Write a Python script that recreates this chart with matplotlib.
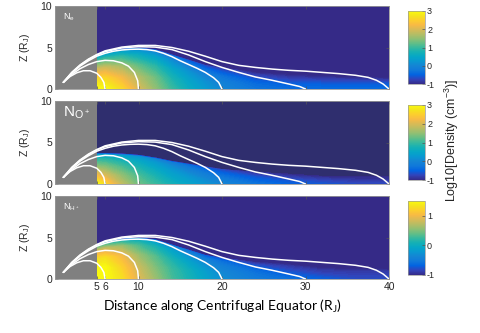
import numpy as np
import matplotlib
matplotlib.use("Agg")
import matplotlib.pyplot as plt
from matplotlib.colors import LinearSegmentedColormap, Normalize
from matplotlib.cm import ScalarMappable

plt.rcParams['font.family'] = ['Liberation Sans', 'DejaVu Sans']
plt.rcParams['axes.unicode_minus'] = False

# ---------------- data ----------------
x_nodes = [5, 6, 8, 10, 12, 14, 16, 18, 20, 24, 28, 32, 36, 40]
s_levels = [0.0, 0.3, 0.6, 0.85, 1.0]

top_e = [4.0, 4.3, 4.65, 4.8, 4.6, 4.0, 3.4, 2.8, 2.5, 2.0, 1.8, 1.6, 1.5, 1.4]
ne_vals = [
    [3.0, 3.0, 2.6, 2.0, 1.5, 1.0, 0.6, 0.3, 0.0, -0.3, -0.4, -0.4, -0.4, -0.4],
    [2.6, 2.6, 2.2, 1.7, 1.3, 0.8, 0.45, 0.15, -0.1, -0.4, -0.5, -0.5, -0.5, -0.5],
    [1.9, 1.9, 1.6, 1.2, 0.9, 0.5, 0.2, -0.1, -0.3, -0.6, -0.7, -0.7, -0.7, -0.7],
    [1.0, 1.0, 0.9, 0.6, 0.4, 0.1, -0.2, -0.4, -0.6, -0.8, -0.9, -0.9, -0.9, -0.9],
    [0.3, 0.3, 0.3, 0.1, -0.1, -0.3, -0.5, -0.7, -0.8, -1.0, -1.0, -1.0, -1.0, -1.0],
]

top_o = [3.5, 3.5, 3.45, 3.3, 3.0, 2.6, 2.3, 2.0, 1.7, 1.4, 1.2, 1.1, 1.0, 1.0]
no_vals = [
    [3.0, 2.6, 1.8, 1.3, 1.0, 0.7, 0.45, 0.2, 0.0, -0.3, -0.5, -0.6, -0.7, -0.7],
    [2.2, 2.0, 1.5, 1.1, 0.8, 0.5, 0.3, 0.05, -0.15, -0.45, -0.6, -0.7, -0.8, -0.8],
    [1.5, 1.4, 1.1, 0.8, 0.55, 0.3, 0.05, -0.15, -0.35, -0.6, -0.75, -0.85, -0.9, -0.9],
    [0.9, 0.9, 0.7, 0.5, 0.3, 0.05, -0.2, -0.4, -0.55, -0.8, -0.9, -1.0, -1.0, -1.0],
    [0.4, 0.4, 0.3, 0.2, 0.0, -0.2, -0.4, -0.6, -0.7, -0.9, -1.0, -1.0, -1.0, -1.0],
]

top_h = [4.0, 4.3, 4.65, 4.8, 4.6, 4.0, 3.4, 2.8, 2.5, 2.0, 1.8, 1.6, 1.5, 1.4]
nh_vals = [
    [1.5, 1.5, 1.3, 0.9, 0.6, 0.3, 0.1, -0.1, -0.3, -0.5, -0.6, -0.7, -0.8, -0.8],
    [1.5, 1.5, 1.2, 0.8, 0.5, 0.25, 0.05, -0.15, -0.35, -0.55, -0.7, -0.8, -0.85, -0.85],
    [1.3, 1.3, 1.0, 0.6, 0.35, 0.1, -0.1, -0.3, -0.45, -0.65, -0.8, -0.9, -0.9, -0.9],
    [0.8, 0.8, 0.6, 0.3, 0.1, -0.1, -0.3, -0.45, -0.6, -0.8, -0.9, -1.0, -1.0, -1.0],
    [0.2, 0.2, 0.1, 0.0, -0.2, -0.4, -0.55, -0.7, -0.8, -0.95, -1.0, -1.0, -1.0, -1.0],
]
background_value = -2.0

# magnetic field lines (x, z) in R_J
fl6_x = [1.0, 1.8, 2.6, 3.4, 4.2, 5.0, 5.5, 5.85, 6.0]
fl6_z = [0.8, 1.5, 1.95, 2.2, 2.2, 1.9, 1.4, 0.8, 0.0]
fl10_x = [1, 2, 3, 4, 5, 6, 7, 8, 8.8, 9.5, 9.9, 10]
fl10_z = [0.8, 1.75, 2.45, 2.95, 3.3, 3.45, 3.4, 3.15, 2.75, 2.0, 1.0, 0.0]
fl20_x = [1, 2, 3, 4, 5, 6, 7, 8, 9, 10, 11, 12, 13, 14, 15, 16, 17, 18, 19, 19.6, 20]
fl20_z = [0.8, 1.9, 2.75, 3.4, 3.95, 4.3, 4.55, 4.7, 4.78, 4.8, 4.75, 4.6, 4.3, 3.9,
          3.4, 2.95, 2.5, 2.0, 1.35, 0.8, 0.0]
fl30_x = [1, 2, 3, 4, 5, 6, 8, 10, 12, 14, 16, 18, 20, 22, 24, 26, 28, 29.3, 30]
fl30_z = [0.8, 1.95, 2.85, 3.55, 4.1, 4.5, 4.95, 5.1, 5.05, 4.75, 4.1, 3.3, 2.6, 2.0,
          1.45, 1.05, 0.6, 0.3, 0.0]
fl40_x = [1, 2, 3, 4, 5, 6, 8, 10, 12, 14, 16, 18, 20, 22, 24, 26, 28, 30, 32, 34, 36,
          37.5, 38.5, 39.3, 40]
fl40_z = [0.8, 2.0, 2.9, 3.6, 4.15, 4.6, 5.05, 5.25, 5.25, 5.0, 4.55, 3.95, 3.3, 2.85,
          2.6, 2.4, 2.25, 2.15, 2.0, 1.85, 1.65, 1.4, 1.05, 0.6, 0.0]
field_lines = [(fl6_x, fl6_z), (fl10_x, fl10_z), (fl20_x, fl20_z),
               (fl30_x, fl30_z), (fl40_x, fl40_z)]

x_ticks = [5, 6, 10, 20, 30, 40]
y_ticks = [0, 5, 10]
cbar_ticks_main = [-1, 0, 1, 2, 3]
cbar_ticks_h = [-1, 0, 1]

# ---------------- colormap (parula-like) ----------------
parula_anchors = [
    (0.2081, 0.1663, 0.5292), (0.1959, 0.2645, 0.7279), (0.0117, 0.3875, 0.8820),
    (0.0629, 0.4737, 0.8554), (0.0793, 0.5200, 0.8312), (0.0343, 0.5966, 0.8199),
    (0.0228, 0.6535, 0.7768), (0.0843, 0.6928, 0.7062), (0.2178, 0.7250, 0.6193),
    (0.3953, 0.7459, 0.5244), (0.5709, 0.7485, 0.4494), (0.7184, 0.7411, 0.3905),
    (0.8507, 0.7299, 0.3360), (0.9739, 0.7314, 0.2666), (0.9880, 0.8066, 0.1794),
    (0.9589, 0.8949, 0.1132), (0.9763, 0.9831, 0.0538)]
parula = LinearSegmentedColormap.from_list('parula', parula_anchors, N=256)

W, H = 480, 333
fig = plt.figure(figsize=(W / 100, H / 100), dpi=100)

ax_left = 55 / W
ax_w = (389 - 55) / W
panel_px = [(6, 89), (101, 184), (196, 279)]
cbar_px = [(11, 84), (105, 180), (201, 275)]

panels = [
    (top_e, ne_vals, -1, 3, cbar_ticks_main, r'N$_\mathregular{e}$', 6.5, '#352a87'),
    (top_o, no_vals, -1, 3, cbar_ticks_main, r'N$_\mathregular{O^+}$', 11, '#2f2e6e'),
    (top_h, nh_vals, -1, 1.5, cbar_ticks_h, r'N$_\mathregular{H^+}$', 6.5, '#352a87'),
]

label_color = '#262626'
for i, (top, vals, vmin, vmax, cticks, name, nsize, under) in enumerate(panels):
    t, b = panel_px[i]
    ax = fig.add_axes([ax_left, 1 - b / H, ax_w, (b - t) / H])
    cmap = parula.copy()
    cmap.set_under(under)
    cmap.set_over(parula_anchors[-1])
    ax.set_facecolor(under)

    xn = np.array(x_nodes, float)
    tp = np.array(top, float)
    rows_z = [tp * s for s in s_levels] + [tp + 0.35, np.full_like(tp, 10.0)]
    rows_v = [np.array(r, float) for r in vals] + [np.full_like(tp, background_value)] * 2
    Z = np.vstack(rows_z)
    X = np.tile(xn, (Z.shape[0], 1))
    V = np.vstack(rows_v)
    levels = np.linspace(vmin, vmax, 81)
    ax.contourf(X, Z, V, levels=levels, cmap=cmap, extend='both',
                antialiased=False)

    ax.axvspan(0, 5, color='#808080', zorder=2, lw=0)
    for fx, fz in field_lines:
        ax.plot(fx, fz, color='white', lw=1.1, zorder=3, solid_capstyle='round')

    ax.text(1.0, 8.6, name, color='white', fontsize=nsize, va='center', ha='left',
            zorder=4)

    ax.set_xlim(0, 40)
    ax.set_ylim(0, 10)
    ax.set_yticks(y_ticks)
    ax.set_xticks(x_ticks)
    ax.tick_params(direction='in', length=2, width=0.5, colors='#555555',
                   labelsize=7.5, labelcolor=label_color, pad=2,
                   top=True, right=True)
    if i < 2:
        ax.set_xticklabels([])
    ax.set_ylabel(r'Z (R$_\mathregular{J}$)', fontsize=7.5, color=label_color,
                  labelpad=6)
    for sp in ax.spines.values():
        sp.set_color('#999999')
        sp.set_linewidth(0.6)

    ct, cb = cbar_px[i]
    cax = fig.add_axes([408 / W, 1 - cb / H, 17 / W, (cb - ct) / H])
    sm = ScalarMappable(norm=Normalize(vmin, vmax), cmap=parula)
    cbar = fig.colorbar(sm, cax=cax, ticks=cticks)
    cbar.ax.tick_params(labelsize=6.5, length=2, width=0.5, direction='in',
                        colors='#555555', labelcolor=label_color, pad=1.5)
    cbar.outline.set_edgecolor('#999999')
    cbar.outline.set_linewidth(0.5)
    if i == 2:
        ax.set_xlabel(r'Distance along Centrifugal Equator (R$_\mathregular{J}$)',
                      fontsize=10, family='Lato', color='black', labelpad=4)

fig.text(452 / W, 1 - 140 / H, r'Log10[Density (cm$^{\mathregular{-3}}$)]',
         rotation=90, fontsize=9, va='center', ha='center', color=label_color)

fig.savefig('out.png', dpi=100)
